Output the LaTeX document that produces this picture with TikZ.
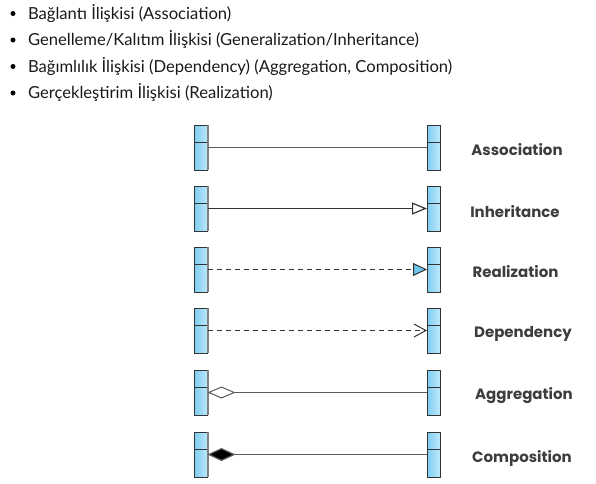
\documentclass[tikz,border=0pt]{standalone}
\usepackage{fontspec}
\setmainfont{Lato}
\newfontfamily\lblfont{Poppins}
\usetikzlibrary{arrows.meta}
\definecolor{boxL}{HTML}{7FCDF1}
\definecolor{boxR}{HTML}{BDE8FB}
\definecolor{edge}{HTML}{333333}
\definecolor{wire}{HTML}{5A5A5A}
\definecolor{lbl}{HTML}{3D3D3D}
\definecolor{tipblue}{HTML}{6EC6EC}
\tikzset{
  x=1pt, y=-1pt,
  cls/.style={draw=edge, line width=1pt, left color=boxL, right color=boxR,
    minimum width=13pt, minimum height=45pt, inner sep=0pt, outer sep=0pt},
  wirel/.style={draw=wire, line width=1.2pt},
  dashl/.style={draw=edge, line width=1pt, dash pattern=on 5pt off 4pt},
  lab/.style={font=\lblfont\bfseries\fontsize{15}{17}\selectfont, text=lbl, anchor=center},
  bul/.style={font=\fontsize{16.6}{19}\selectfont, text=black!90, anchor=base west},
  dot/.style={circle, fill=black, inner sep=0pt, minimum size=5pt}
}
\begin{document}
\begin{tikzpicture}
\useasboundingbox (0,0) rectangle (596,483);
% bullet list
\foreach \i/\y/\t in {1/19/{Bağlantı İlişkisi (Association)},
  2/45.5/{Genelleme/Kalıtım İlişkisi (Generalization/Inheritance)},
  3/72/{Bağımlılık İlişkisi (Dependency) (Aggregation, Composition)},
  4/98.5/{Gerçekleştirim İlişkisi (Realization)}}{
  \node[dot] (b\i) at (13,\y-5.5) {};
  \node[bul] (t\i) at (24.5,\y) {\t};
}
% class boxes
\foreach \i/\top in {1/125,2/186,3/247,4/308,5/370,6/432}{
  \node[cls] (L\i) at (201,\top+22.5) {};
  \node[cls] (R\i) at (433.5,\top+22.5) {};
  \draw[edge, line width=1pt] ([yshift=-17pt]L\i.north west) -- ([yshift=-17pt]L\i.north east);
  \draw[edge, line width=1pt] ([yshift=-17pt]R\i.north west) -- ([yshift=-17pt]R\i.north east);
  \draw[draw=gray, line width=1.5pt] ([xshift=0.5pt]L\i.north east) -- ([xshift=0.5pt]L\i.south east);
}
% connectors
\draw[wirel] (L1.east) -- (R1.west);
\draw[wirel, draw=edge, -{Triangle[open, length=15pt, width=12pt, fill=white]}] (L2.east) -- (R2.west);
\draw[dashl, -{Triangle[length=14pt, width=13pt, fill=tipblue]}] (L3.east) -- (R3.west);
\draw[dashl, -{Straight Barb[length=12pt, width=13pt, line width=1pt]}] (L4.east) -- (R4.west);
\draw[wirel, {Diamond[open, length=28pt, width=12pt, fill=white, line width=1pt]}-] (L5.east) -- (R5.west);
\draw[wirel, {Diamond[length=28pt, width=13pt, fill=black]}-] (L6.east) -- (R6.west);
% labels
\node[lab] (A1) at (517,150) {Association};
\node[lab] (A2) at (515,212) {Inheritance};
\node[lab] (A3) at (515.5,272) {Realization};
\node[lab] (A4) at (523,334) {Dependency};
\node[lab] (A5) at (524,396) {Aggregation};
\node[lab] (A6) at (522,458) {Composition};
\end{tikzpicture}
\end{document}
